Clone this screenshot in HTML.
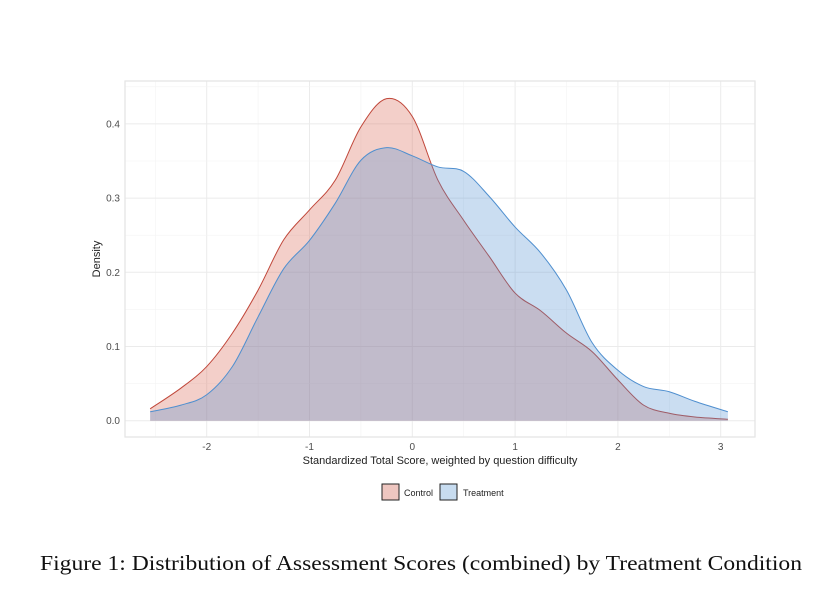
<!DOCTYPE html>
<html><head><meta charset="utf-8"><style>
body{margin:0;background:#fff;width:834px;height:601px;overflow:hidden}
svg text{font-family:"Liberation Sans",sans-serif}
</style></head><body>
<svg width="834" height="601">
<g id="grid"></g>
<rect x="125" y="81" width="630" height="356" fill="none" stroke="#e3e3e3" stroke-width="1.2"/>
<g id="marks"></g>
<g id="axes"></g>
<text x="440" y="464" font-size="11" text-anchor="middle" fill="#222">Standardized Total Score, weighted by question difficulty</text>
<text transform="translate(100,259) rotate(-90)" font-size="11" text-anchor="middle" fill="#222">Density</text>
<g>
<rect x="382" y="484" width="17" height="16" fill="#eec6c0" stroke="#222" stroke-width="1"/>
<text x="404" y="496" font-size="9" fill="#222">Control</text>
<rect x="440" y="484" width="17" height="16" fill="#c7dcf0" stroke="#222" stroke-width="1"/>
<text x="463" y="496" font-size="9" fill="#222">Treatment</text>
</g>
<text x="40" y="570" font-size="21" fill="#111" textLength="762" lengthAdjust="spacingAndGlyphs" style="font-family:'Liberation Serif',serif">Figure 1: Distribution of Assessment Scores (combined) by Treatment Condition</text>
</svg>
<script>
const xs=[-2.55,-2.25,-2,-1.75,-1.5,-1.25,-1,-0.75,-0.5,-0.25,0,0.25,0.5,0.75,1,1.25,1.5,1.75,2,2.25,2.5,2.75,3.07];
const control=[0.016,0.044,0.073,0.118,0.176,0.244,0.284,0.324,0.396,0.434,0.41,0.324,0.27,0.221,0.172,0.148,0.118,0.093,0.055,0.021,0.010,0.005,0.002];
const treatment=[0.012,0.021,0.035,0.073,0.14,0.205,0.243,0.293,0.351,0.368,0.357,0.342,0.336,0.302,0.261,0.226,0.176,0.105,0.068,0.046,0.039,0.026,0.012];
const xTicks=[-2,-1,0,1,2,3];
const yTicks=[0,0.1,0.2,0.3,0.4];
const xTickLabels=["-2","-1","0","1","2","3"];
const yTickLabels=["0.0","0.1","0.2","0.3","0.4"];
const X=v=>412.3+v*102.8, Y=v=>420.7-v*742;
const NS="http://www.w3.org/2000/svg";
function mk(t,a,p){const e=document.createElementNS(NS,t);for(const k in a)e.setAttribute(k,a[k]);p.appendChild(e);return e;}
const grid=document.getElementById('grid'),axes=document.getElementById('axes'),marks=document.getElementById('marks');
for(let v=-2.5;v<=3.01;v+=0.5){const major=Math.abs(v-Math.round(v))<1e-6;
const l=mk('line',{x1:X(v),x2:X(v),y1:81,y2:437,stroke:major?'#ebebeb':'#f3f3f3','stroke-width':major?1:0.6},grid);

}
for(let v=-0.0;v<=0.451;v+=0.05){const major=Math.abs(v*10-Math.round(v*10))<1e-6;
const l=mk('line',{x1:125,x2:755,y1:Y(v),y2:Y(v),stroke:major?'#ebebeb':'#f3f3f3','stroke-width':major?1:0.6},grid);

}
xTicks.forEach((v,i)=>{const t=mk('text',{x:X(v),y:450,'font-size':10,'text-anchor':'middle',fill:'#4d4d4d'},axes);t.textContent=xTickLabels[i];

});
yTicks.forEach((v,i)=>{const t=mk('text',{x:120,y:Y(v)+3.5,'font-size':10,'text-anchor':'end',fill:'#4d4d4d'},axes);t.textContent=yTickLabels[i];

});
function curve(ys){const p=xs.map((x,i)=>[X(x),Y(ys[i])]);let d='M'+p[0][0]+','+p[0][1];
for(let i=0;i<p.length-1;i++){const p0=p[i-1]||p[i],p1=p[i],p2=p[i+1],p3=p[i+2]||p[i+1];
d+=` C${p1[0]+(p2[0]-p0[0])/6},${p1[1]+(p2[1]-p0[1])/6} ${p2[0]-(p3[0]-p1[0])/6},${p2[1]-(p3[1]-p1[1])/6} ${p2[0]},${p2[1]}`;}return d;}
function area(ys,fill,stroke,name){const c=curve(ys);
const a=mk('path',{d:c+` L${X(xs[xs.length-1])},${Y(0)} L${X(xs[0])},${Y(0)} Z`,fill:fill,'fill-opacity':0.3},marks);


const l=mk('path',{d:c,fill:'none',stroke:stroke,'stroke-width':1},marks);

}
area(control,'#d6604d','#c0473a','control');
area(treatment,'#4f8fcf','#4f8fcf','treatment');
</script>
</body></html>
